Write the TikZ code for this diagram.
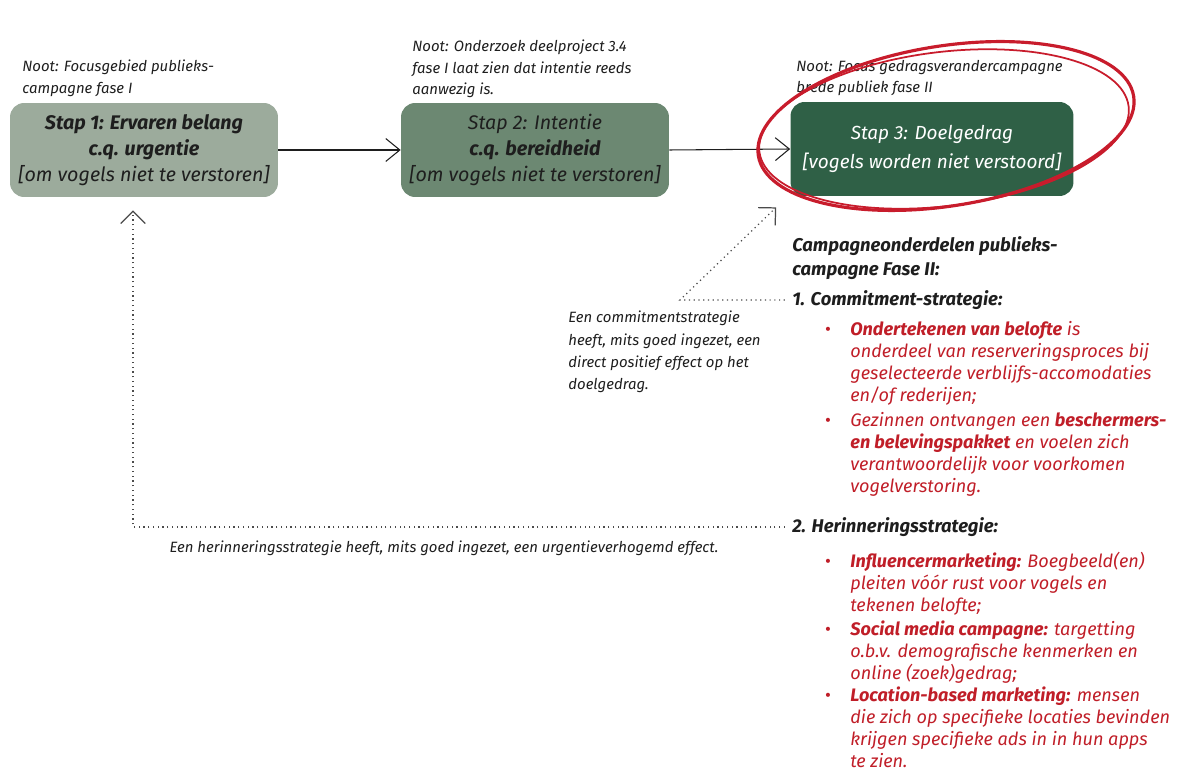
\documentclass[tikz,border=0pt]{standalone}
\usepackage{fontspec}
\setmainfont{Fira Sans}
\usetikzlibrary{arrows.meta,positioning}

\definecolor{stapeen}{RGB}{156,171,156}
\definecolor{staptwee}{RGB}{108,136,114}
\definecolor{stapdrie}{RGB}{47,96,70}
\definecolor{rood}{RGB}{192,30,40}
\definecolor{cirkelrood}{RGB}{200,28,44}
\definecolor{inkt}{RGB}{30,30,30}

\begin{document}
\begin{tikzpicture}[x=0.02cm, y=-0.02cm,
    stap/.style={rectangle, rounded corners=8pt, align=center, inner sep=0pt, minimum width=5.36cm, minimum height=1.88cm, font=\fontsize{11.2}{14.8}\selectfont\itshape},
    noot/.style={anchor=north west, align=left, inner sep=0pt, text=inkt, font=\fontsize{8.5}{12}\selectfont\itshape},
    kop/.style={anchor=west, align=left, inner sep=0pt, text=inkt, font=\fontsize{10.5}{13.6}\selectfont\bfseries\itshape},
    punt/.style={anchor=north west, align=left, inner sep=0pt, text=rood, font=\fontsize{10.3}{12.5}\selectfont\itshape},
    bol/.style={anchor=north, inner sep=0pt, text=rood, font=\fontsize{10.3}{12.5}\selectfont},
    pijl/.style={-{Straight Barb[length=8pt,width=13pt]}, line width=0.6pt, draw=inkt},
    stippel/.style={-{Straight Barb[length=7pt,width=14pt]}, dotted, line width=0.7pt, draw=inkt!80},
    cirkel/.style={draw=cirkelrood, line width=1.8pt}]

    \useasboundingbox (0, 0) rectangle (1181, 773);

    \node [stap, fill=stapeen, text=inkt] (stap1) at (144, 150) {\textbf{Stap 1: Ervaren belang} \\ \textbf{c.q. urgentie} \\ {[om vogels niet te verstoren]}};
    \node [stap, fill=staptwee, text=inkt] (stap2) at (535, 150) {Stap 2: Intentie \\ \textbf{c.q. bereidheid} \\ {[om vogels niet te verstoren]}};
    \node [stap, fill=stapdrie, text=white, minimum width=5.66cm, font=\fontsize{10.8}{16.5}\selectfont\itshape] (stap3) at (932, 149) {Stap 3: Doelgedrag \\ {[vogels worden niet verstoord]}};

    \node [noot] (noot1) at (22, 60) {Noot: Focusgebied publieks- \\ campagne fase I};
    \node [noot] (noot2) at (412, 40) {Noot: Onderzoek deelproject 3.4 \\ fase I laat zien dat intentie reeds \\ aanwezig is.};
    \node [noot] (noot3) at (796, 60) {Noot: Focus gedragsverandercampagne \\ brede publiek fase II};

    \draw [pijl] (stap1.east) -- (stap2.west);
    \draw [pijl] (stap2.east) -- (stap3.west);

    \node [kop] (campagne) at (792, 258) {Campagneonderdelen publieks- \\ campagne Fase II:};
    \node [kop] (commit) at (792, 300) {1. Commitment-strategie:};
    \node [punt] (belofte) at (850, 320) {\strut\textbf{Ondertekenen van belofte} is \\ onderdeel van reserveringsproces bij \\ geselecteerde verblijfs-accomodaties \\ en/of rederijen;};
    \node [punt] (pakket) at (850, 411) {\strut Gezinnen ontvangen een \textbf{beschermers-} \\ \textbf{en belevingspakket} en voelen zich \\ verantwoordelijk voor voorkomen \\ vogelverstoring.};
    \node [kop] (herin) at (792, 527) {2. Herinneringsstrategie:};
    \node [punt] (influencer) at (850, 552) {\strut\textbf{Influencermarketing:} Boegbeeld(en) \\ pleiten vóór rust voor vogels en \\ tekenen belofte;};
    \node [punt] (social) at (850, 620) {\strut\textbf{Social media campagne:} targetting \\ o.b.v. demografische kenmerken en \\ online (zoek)gedrag;};
    \node [punt] (locatie) at (850, 686) {\strut\textbf{Location-based marketing:} mensen \\ die zich op specifieke locaties bevinden \\ krijgen specifieke ads in in hun apps \\ te zien.};

    \foreach \p in {belofte, pakket, influencer, social, locatie}
        \node [bol] at ([xshift=-0.44cm]\p.north west) {\strut•};

    \node [noot, font=\fontsize{8.5}{12.7}\selectfont\itshape] (committekst) at (568, 311) {Een commitmentstrategie \\ heeft, mits goed ingezet, een \\ direct positief effect op het \\ doelgedrag.};
    \node [noot, anchor=center] (herintekst) at (444, 548) {Een herinneringsstrategie heeft, mits goed ingezet, een urgentieverhogemd effect.};

    \draw [stippel, shorten >=0.26cm] ([xshift=-4pt]herin.west) -| ([xshift=-0.22cm]stap1.south);
    \draw [stippel] ([xshift=-4pt]commit.west) -- ++(-105, 0) -- ([shift={(-14, 11)}]stap3.south west);

    \draw [cirkel, rotate around={9:(946, 126)}] (946, 126) ellipse [x radius=190, y radius=80];
    \draw [cirkel, line width=1pt, rotate around={7:(944, 129)}] (944, 129) ellipse [x radius=186, y radius=77];

\end{tikzpicture}
\end{document}
